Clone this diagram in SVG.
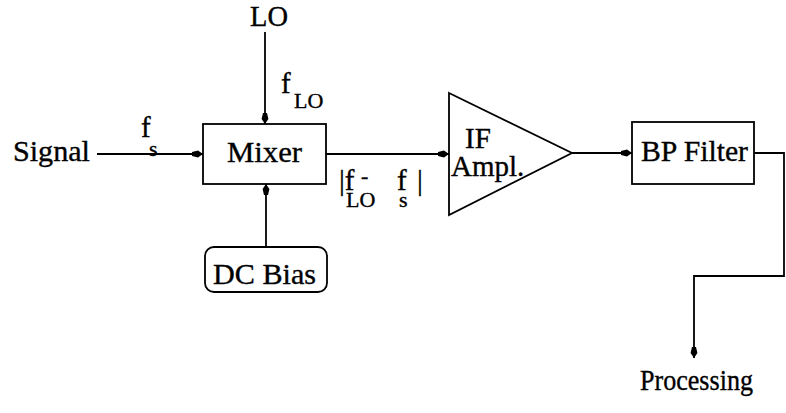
<svg xmlns="http://www.w3.org/2000/svg" width="786" height="413" viewBox="0 0 786 413">
<defs>
<style>
text{font-family:"Liberation Serif","Times New Roman",serif;fill:#000;stroke:#000;stroke-width:0.35}
.t{font-size:29px}
.s{font-size:22px}
.box{fill:none;stroke:#000;stroke-width:1.8}
.ln{fill:none;stroke:#000;stroke-width:1.8}
</style>
<marker id="ah" viewBox="-12 -5 13 10" refX="0" refY="0" markerWidth="13" markerHeight="10" markerUnits="userSpaceOnUse" orient="auto">
<path d="M0,0 L-5,-3.4 L-11,-2 L-11,2 L-5,3.4 Z" fill="#000"/>
</marker>
</defs>
<rect width="786" height="413" fill="#fff"/>
<g id="connectors">
<line class="ln" x1="97" y1="154" x2="203" y2="154" marker-end="url(#ah)"/>
<line class="ln" x1="265" y1="32" x2="265" y2="124" marker-end="url(#ah)"/>
<line class="ln" x1="266" y1="247" x2="266" y2="184" marker-end="url(#ah)"/>
<line class="ln" x1="326" y1="154" x2="449" y2="154" marker-end="url(#ah)"/>
<line class="ln" x1="572" y1="153" x2="632" y2="153" marker-end="url(#ah)"/>
<polyline class="ln" points="754,153 784,153 784,276 694,276 694,358" marker-end="url(#ah)"/>
</g>
<g id="signal"><text class="t" x="13" y="161" textLength="77" lengthAdjust="spacingAndGlyphs">Signal</text></g>
<g id="lo"><text class="t" x="250" y="26" textLength="38" lengthAdjust="spacingAndGlyphs">LO</text></g>
<g id="mixer">
<rect class="box" x="203" y="124" width="123" height="60"/>
<text class="t" x="227" y="162" textLength="75" lengthAdjust="spacingAndGlyphs">Mixer</text>
</g>
<g id="dcbias">
<rect class="box" x="205" y="247" width="122" height="45" rx="9"/>
<text class="t" x="213" y="284" textLength="103" lengthAdjust="spacingAndGlyphs">DC Bias</text>
</g>
<g id="ifampl">
<polygon class="box" points="449,93 572,153 449,215"/>
<text class="t"><tspan x="465" y="148">IF</tspan><tspan x="451" y="176">Ampl.</tspan></text>
</g>
<g id="bpfilter">
<rect class="box" x="632" y="122" width="122" height="62"/>
<text class="t" x="641" y="161" textLength="107" lengthAdjust="spacingAndGlyphs">BP Filter</text>
</g>
<g id="processing"><text class="t" x="640" y="390" textLength="113" lengthAdjust="spacingAndGlyphs">Processing</text></g>
<g id="labels">
<text class="t"><tspan x="141" y="137">f</tspan><tspan class="s" x="149" y="156">s</tspan></text>
<text class="t"><tspan x="281" y="93">f</tspan><tspan class="s" x="294" y="108">LO</tspan></text>
<text class="t"><tspan x="339" y="190">|f</tspan><tspan class="s" x="346" y="207">LO</tspan><tspan class="s" x="361" y="183">-</tspan><tspan x="397" y="190">f</tspan><tspan x="417" y="190">|</tspan><tspan class="s" x="399" y="207">s</tspan></text>
</g>
</svg>
